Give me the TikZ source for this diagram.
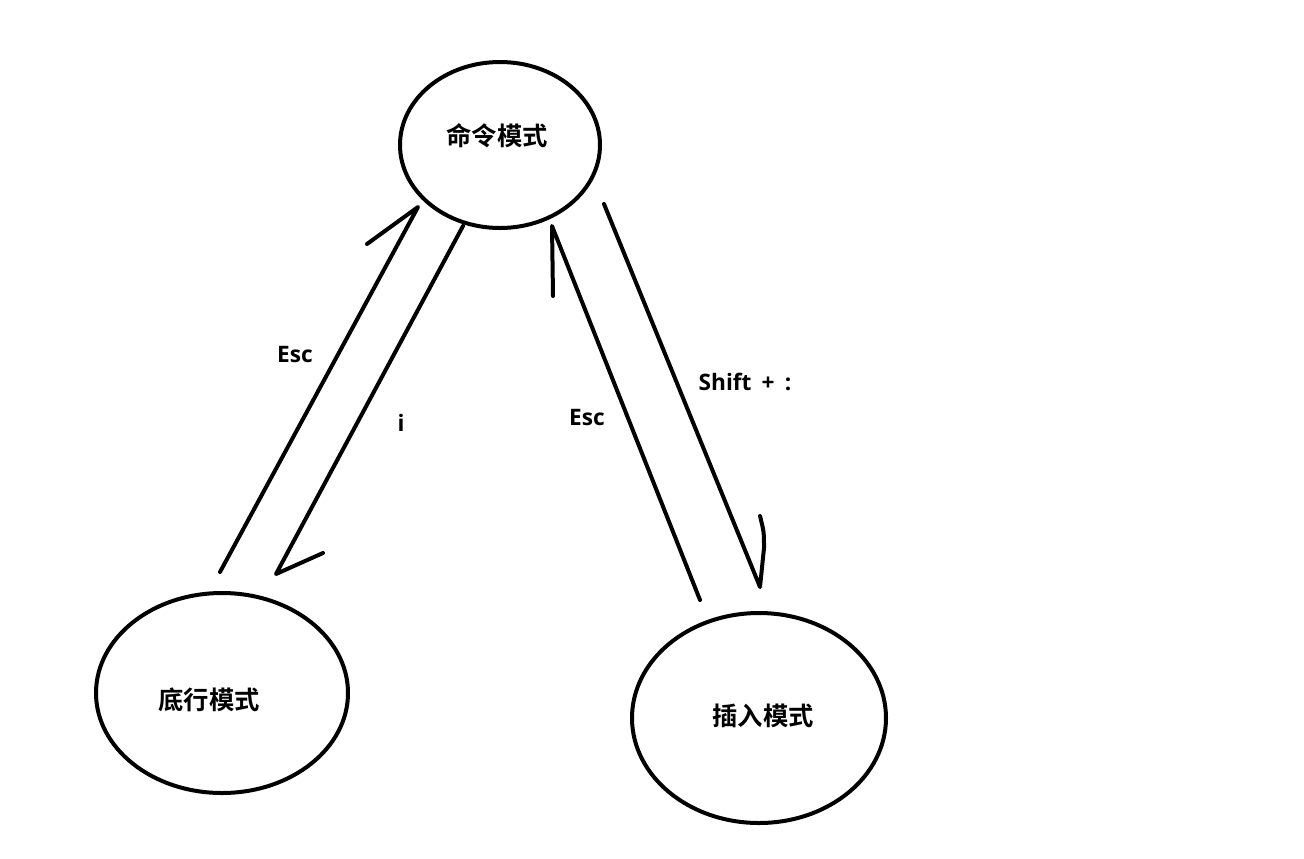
\documentclass[tikz,border=0pt]{standalone}
\usepackage{fontspec}
\newfontfamily\cjkbold{Noto Sans CJK SC Bold}
\newfontfamily\latbold{Open Sans}
\usetikzlibrary{shapes.geometric}
\begin{document}
\begin{tikzpicture}[x=0.75pt,y=-0.75pt,
  state/.style={draw=black,line width=3pt,ellipse,inner sep=0pt},
  lbl/.style={font=\cjkbold\fontsize{19pt}{22pt}\selectfont,inner sep=0pt},
  elbl/.style={font=\latbold\bfseries\fontsize{17pt}{20pt}\selectfont,inner sep=0pt},
  stroke/.style={draw=black,line width=3pt,line cap=round,line join=round}]
\useasboundingbox[fill=white] (0,0) rectangle (1304,858);
% states
\node[state,minimum width=200*0.75pt,minimum height=166*0.75pt] (cmd) at (500,145) {};
\node[state,minimum width=252*0.75pt,minimum height=200*0.75pt] (low) at (222,693) {};
\node[state,minimum width=254*0.75pt,minimum height=210*0.75pt] (ins) at (759,718) {};
\node[lbl] (cmdt) at (497,136) {命令模式};
\node[lbl] (lowt) at (209,700) {底行模式};
\node[lbl] (inst) at (763,716) {插入模式};
% connector end points
\coordinate (a1) at (220,572);
\coordinate (a2) at (418,207);
\coordinate (a3) at (367,244);
\coordinate (b1) at (463,226);
\coordinate (b2) at (276,574);
\coordinate (b3) at (323,553);
\coordinate (c1) at (700,600);
\coordinate (c2) at (552,226);
\coordinate (c3) at (553,296);
\coordinate (d1) at (604,204);
\coordinate (d2) at (760,587);
\coordinate (d3) at (760,516);
% connectors
\draw[stroke] (a1) -- (a2) -- (a3);
\draw[stroke] (b1) -- (b2) -- (b3);
\draw[stroke] (c1) -- (c2) -- (c3);
\draw[stroke] (d1) -- (d2) -- (764,548) .. controls (764,532) .. (d3);
% labels
\node[elbl] (l1) at (295,355) {Esc};
\node[elbl] (l2) at (401,423) {i};
\node[elbl] (l3) at (587,418) {Esc};
\node[elbl] (l4) at (745,382) {Shift\hspace{0.45em}+\hspace{0.45em}:};
\end{tikzpicture}
\end{document}
